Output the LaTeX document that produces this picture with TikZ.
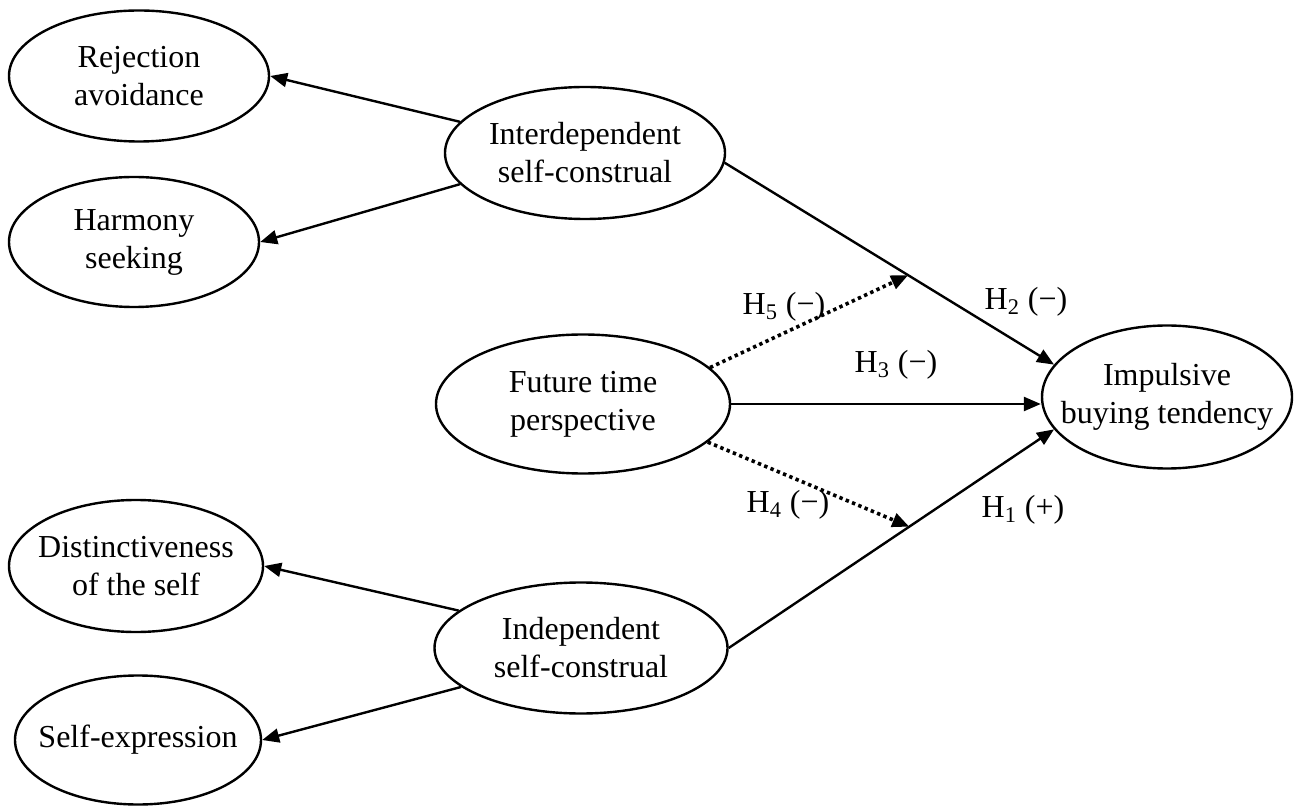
\documentclass[tikz,border=0pt]{standalone}
\usepackage{fontspec}
\setmainfont{Liberation Serif}
\usetikzlibrary{shapes.geometric,arrows.meta,calc}
\begin{document}
\begin{tikzpicture}[x=0.5pt,y=-0.5pt,
  lat/.style={ellipse,draw,line width=1.2pt,inner sep=0pt},
  lattext/.style={align=center,inner sep=0pt,font=\fontsize{16}{19}\selectfont},
  conn/.style={line width=1.2pt,-{Triangle[length=8.5pt,width=7pt]}},
  modline/.style={line width=1.8pt,dash pattern=on 1.7pt off 1.7pt,-{Triangle[length=8.5pt,width=7pt]}},
  hyp/.style={font=\fontsize{16}{19}\selectfont,inner sep=0pt}]
\useasboundingbox (0,0) rectangle (1294,806);
% latent variables
\node[lat,minimum width=130pt,minimum height=65.5pt,label={[lattext]center:Rejection\\avoidance}] (rej) at (139,76) {};
\node[lat,minimum width=125pt,minimum height=65pt,label={[lattext]center:Harmony\\seeking}] (har) at (134,242) {};
\node[lat,minimum width=140pt,minimum height=66pt,label={[lattext]center:Interdependent\\self-construal}] (interd) at (585,153) {};
\node[lat,minimum width=147pt,minimum height=69.5pt,label={[lattext]center:Future time\\perspective}] (fut) at (583,404) {};
\node[lat,minimum width=125pt,minimum height=71.5pt,label={[lattext]center:Impulsive\\buying tendency}] (imp) at (1167,397) {};
\node[lat,minimum width=127pt,minimum height=66pt,label={[lattext]center:Distinctiveness\\of the self}] (dist) at (136,566) {};
\node[lat,minimum width=123pt,minimum height=64.5pt,label={[lattext]center:Self-expression}] (selfx) at (138,740) {};
\node[lat,minimum width=146.5pt,minimum height=65.5pt,label={[lattext]center:Independent\\self-construal}] (indep) at (581,648) {};
% connectors
\draw[conn] (interd.166) -- (rej.east);
\draw[conn] (interd.194) -- (har.east);
\draw[conn] (interd.-4) -- (imp.164);
\draw[conn] (fut.east) -- (fut.east -| imp.west);
\draw[conn] (indep.east) -- (imp.196);
\draw[conn] (indep.163) -- (dist.east);
\draw[conn] (indep.198) -- (selfx.east);
% moderation
\coordinate (m5) at ($(interd.-4)!0.557!(imp.164)$);
\coordinate (m4) at ($(indep.east)!0.555!(imp.196)$);
\draw[modline] (fut.16) -- (m5);
\draw[modline] (fut.-17) -- (m4);
% labels
\node[hyp] (h5) at (784,307) {H\textsubscript{5} (−)};
\node[hyp] (h2) at (1026,302) {H\textsubscript{2} (−)};
\node[hyp] (h3) at (896,365) {H\textsubscript{3} (−)};
\node[hyp] (h4) at (788,505) {H\textsubscript{4} (−)};
\node[hyp] (h1) at (1023,510) {H\textsubscript{1} (+)};
\end{tikzpicture}
\end{document}
